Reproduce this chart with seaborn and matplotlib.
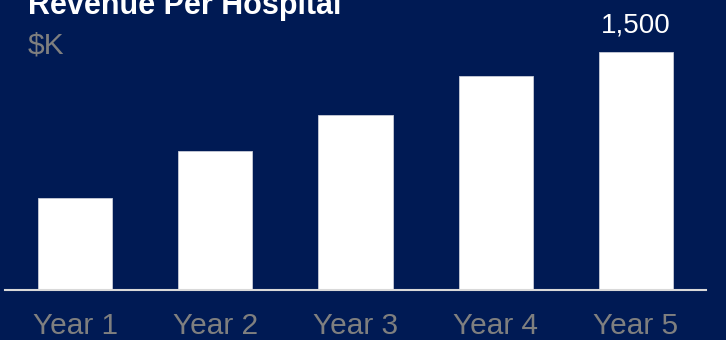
import matplotlib
matplotlib.use("Agg")
import matplotlib.pyplot as plt
import seaborn as sns
import pandas as pd

years = ["Year 1", "Year 2", "Year 3", "Year 4", "Year 5"]
revenue_k = [580, 875, 1100, 1350, 1500]
bar_labels = ["", "", "", "", "1,500"]
title = "Revenue Per Hospital"
unit = "$K"

BG = "#001A54"
GRAY = "#7F7F7F"

sns.set_theme(style="white")
plt.rcParams["font.family"] = ["Liberation Sans", "DejaVu Sans"]

df = pd.DataFrame({"year": years, "value": revenue_k})

fig = plt.figure(figsize=(7.26, 3.40), dpi=100)
fig.patch.set_facecolor(BG)
ax = fig.add_axes([5 / 726, 50 / 340, 701 / 726, 290 / 340])
ax.set_facecolor(BG)

sns.barplot(data=df, x="year", y="value", color="white", saturation=1,
            width=0.53, edgecolor="#C8CCD8", linewidth=0.6, ax=ax)

ax.set_xlim(-0.5, 4.5)
ax.set_ylim(0, 1828)
ax.set_xlabel("")
ax.set_ylabel("")
ax.set_yticks([])
for s in ["top", "left", "right"]:
    ax.spines[s].set_visible(False)
ax.spines["bottom"].set_color("#D9D9D9")
ax.spines["bottom"].set_linewidth(1.5)
ax.spines["bottom"].set_zorder(5)
ax.tick_params(axis="x", length=0, pad=16, labelsize=21.5, labelcolor=GRAY)

ax.bar_label(ax.containers[0], labels=bar_labels, padding=10,
             fontsize=20, color="white")

fig.text(28 / 726, 1 - 14 / 340, title, color="white", fontsize=22,
         fontweight="bold", ha="left", va="baseline")
fig.text(28 / 726, 1 - 54 / 340, unit, color=GRAY, fontsize=21.5,
         ha="left", va="baseline")

fig.savefig("out.png", dpi=100, facecolor=BG)
